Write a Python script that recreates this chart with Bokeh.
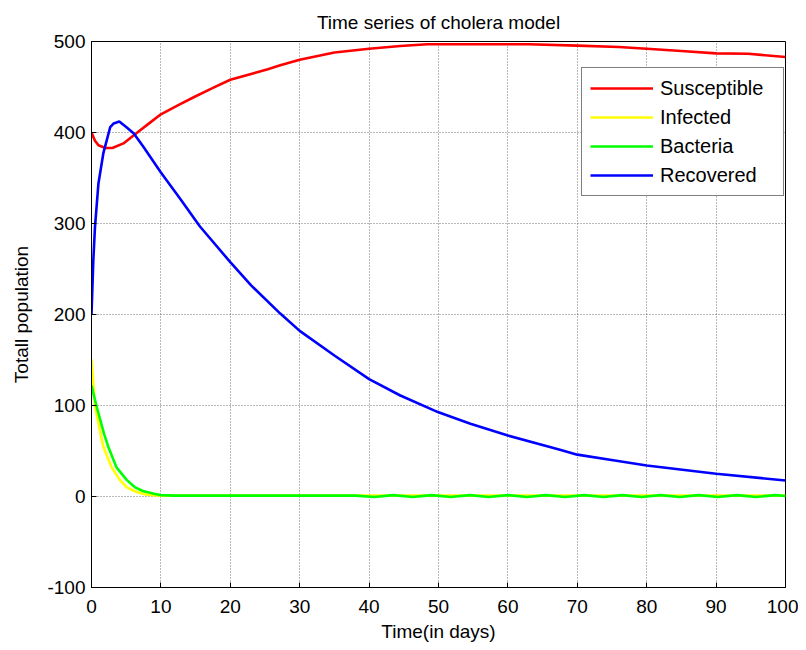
from bokeh.plotting import figure
from bokeh.models import Range1d, FixedTicker, Legend, LegendItem
from bokeh.embed import file_html
from bokeh.resources import INLINE

# ---- data ----
t_sus = [0, 0.5, 1, 2, 3, 4.6, 6.6, 8.3, 10, 12.5, 14.8, 17.5, 20, 25.4, 27.2, 30, 35, 40,
         44.5, 48.4, 55, 63, 70, 76, 80, 85, 90, 94.6, 100]
susceptible = [400, 391, 386, 383, 383, 388, 400, 410, 420, 430, 439, 449, 458, 469.5, 474, 480,
               488, 492, 495, 497, 497, 497, 495.5, 494, 492, 489.5, 487, 486.5, 483]

t_inf = [0, 0.5, 1.3, 1.7, 2.9, 4.1, 5.1, 6.5, 8, 10, 20, 40, 60, 80, 100]
infected = [151, 100, 69, 55, 32, 18, 10, 5, 2, 1, 1, 1, 1, 1, 1]

t_bac = [0, 0.7, 1.8, 2.4, 3.6, 5.1, 6.3, 7.4, 9, 10, 12, 38, 40.75, 43.5, 46.25, 49, 51.75,
         54.5, 57.25, 60, 62.75, 65.5, 68.25, 71, 73.75, 76.5, 79.25, 82, 84.75, 87.5, 90.25,
         93, 95.75, 98.5, 100]
bacteria = [122, 100, 69, 55, 32, 18, 10, 6, 3, 1.5, 1, 1, -0.5, 1.5, -0.5, 1.5, -0.5,
            1.5, -0.5, 1.5, -0.5, 1.5, -0.5, 1.5, -0.5, 1.5, -0.5, 1.5, -0.5, 1.5, -0.5,
            1.5, -0.5, 1.5, 0.5]

t_rec = [0, 0.26, 0.5, 1, 1.7, 2.7, 3.2, 4.0, 5.0, 6.1, 7.5, 10, 12.8, 15.6, 20, 23, 27.2, 30,
         35, 40, 44.5, 50, 54.6, 60, 67.5, 70, 75.4, 80, 90, 100]
recovered = [200, 259, 296, 344, 377, 406, 410, 412, 406, 399, 384, 356, 327, 297, 257.5, 232,
             201, 182, 155, 129, 111, 92.5, 80, 67, 51.5, 46, 39.6, 34, 25, 17.6]

x_ticks = [0, 10, 20, 30, 40, 50, 60, 70, 80, 90, 100]
y_ticks = [-100, 0, 100, 200, 300, 400, 500]
y_tick_labels = ["-100", "0", "100", "200", "300", "400", "500"]

FONT = "Liberation Sans"

p = figure(output_backend="svg", toolbar_location=None,
           frame_width=694, frame_height=546,
           min_border_left=91, min_border_right=13, min_border_top=41, min_border_bottom=55,
           x_range=Range1d(0, 100), y_range=Range1d(-100, 500),
           title="Time series of cholera model")

p.title.text_font = FONT
p.title.text_font_size = "19px"
p.title.text_font_style = "normal"
p.title.text_color = "black"
p.title.align = "center"
p.title.standoff = 17
p.title.offset = 0

p.outline_line_color = "black"
p.outline_line_width = 1
p.background_fill_color = "white"
p.border_fill_color = "white"

for ax in (p.xaxis[0], p.yaxis[0]):
    ax.major_label_text_font = FONT
    ax.major_label_text_font_size = "19px"
    ax.axis_label_text_font = FONT
    ax.axis_label_text_font_size = "19px"
    ax.axis_label_text_font_style = "normal"
    ax.axis_label_text_color = "black"
    ax.major_tick_in = 5
    ax.major_tick_out = 0
    ax.minor_tick_line_color = None
    ax.axis_line_color = "black"
    ax.major_tick_line_color = "black"
    ax.major_label_text_color = "black"

p.xaxis[0].ticker = FixedTicker(ticks=x_ticks)
p.yaxis[0].ticker = FixedTicker(ticks=y_ticks)
p.yaxis[0].major_label_overrides = dict(zip(y_ticks, y_tick_labels))
p.xaxis[0].axis_label = "Time(in days)"
p.yaxis[0].axis_label = "Totall population"
p.xaxis[0].major_label_standoff = 12
p.yaxis[0].major_label_standoff = 6
p.xaxis[0].axis_label_standoff = 5
p.yaxis[0].axis_label_standoff = 12

p.xgrid.ticker = FixedTicker(ticks=x_ticks)
p.ygrid.ticker = FixedTicker(ticks=y_ticks)
for g in (p.xgrid[0], p.ygrid[0]):
    g.grid_line_color = "#000000"
    g.grid_line_dash = "1 2"
    g.grid_line_alpha = 0.55
    g.grid_line_width = 1

lw = 2.6
r1 = p.line(t_sus, susceptible, line_color="#FF0000", line_width=lw)
r2 = p.line(t_inf, infected, line_color="#FFFF00", line_width=lw)
r3 = p.line(t_bac, bacteria, line_color="#00FF00", line_width=lw)
r4 = p.line(t_rec, recovered, line_color="#0000FF", line_width=lw)

legend = Legend(items=[LegendItem(label="Susceptible", renderers=[r1]),
                       LegendItem(label="Infected", renderers=[r2]),
                       LegendItem(label="Bacteria", renderers=[r3]),
                       LegendItem(label="Recovered", renderers=[r4])],
                location=(490, 391))
legend.label_text_font = FONT
legend.label_text_font_size = "20px"
legend.label_text_color = "black"
legend.glyph_width = 63
legend.glyph_height = 24
legend.label_height = 24
legend.label_width = 115
legend.label_standoff = 7
legend.spacing = 5
legend.padding = 8
legend.margin = 0
legend.border_line_color = "black"
legend.border_line_width = 1
legend.background_fill_alpha = 1
p.add_layout(legend, "center")

open("out.html", "w").write(file_html(p, INLINE))
